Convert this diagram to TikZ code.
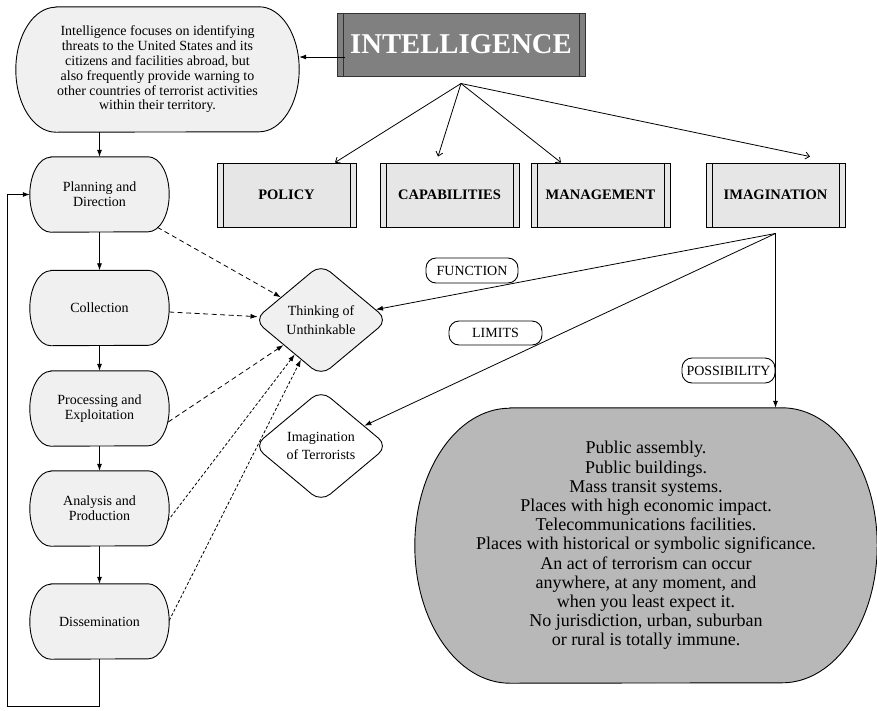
\documentclass[tikz,border=0pt]{standalone}
\usepackage{fontspec}
\setmainfont{Liberation Serif}
\usetikzlibrary{arrows.meta,shapes.geometric,calc}
\definecolor{softfill}{HTML}{F0F0F0}
\definecolor{catfill}{HTML}{E6E6E6}
\definecolor{headfill}{HTML}{808080}
\definecolor{headline}{HTML}{333333}
\definecolor{bigfill}{HTML}{B8B8B8}
\pgfdeclarelayer{shapelayer}
\pgfsetlayers{shapelayer,main}

% outline with half-elliptic ends behind node #1: x radius #2, y radius #3, fill #4
\newcommand\stadiumpath[4]{%
  \begin{pgfonlayer}{shapelayer}
  \draw[line width=0.9pt,fill=#4] let \p1=(#1.north west), \p2=(#1.south east) in
    (\x1+#2,\y1) -- (\x2-#2,\y1)
    arc[start angle=90,end angle=-90,x radius=#2,y radius=#3]
    -- (\x1+#2,\y2)
    arc[start angle=270,end angle=90,x radius=#2,y radius=#3] -- cycle;
  \end{pgfonlayer}}

\begin{document}
\begin{tikzpicture}[x=1pt,y=-1pt,
  every node/.style={inner sep=0pt,align=center},
  conn/.style={line width=0.8pt},
  solidtip/.style={conn,-{Latex[length=7pt,width=5pt]}},
  opentip/.style={conn,-{Straight Barb[length=4pt,width=7pt]}},
  dashtip/.style={conn,dash pattern=on 5pt off 3.5pt,-{Latex[length=7pt,width=5pt]}},
  finetip/.style={conn,dash pattern=on 3pt off 2pt,-{Latex[length=7pt,width=5pt]}},
  sidebars/.style={path picture={
    \draw[line width=0.8pt,#1]
      ([xshift=6pt]path picture bounding box.north west) -- ([xshift=6pt]path picture bounding box.south west)
      ([xshift=-6pt]path picture bounding box.north east) -- ([xshift=-6pt]path picture bounding box.south east);}},
  topbox/.style={minimum width=283pt,minimum height=125pt,font=\fontsize{14}{14.8}\selectfont},
  headbox/.style={draw=headline,line width=1pt,fill=headfill,sidebars=headline,
    minimum width=248pt,minimum height=63pt,text=white,font=\fontsize{28.7}{30}\selectfont\bfseries},
  catbox/.style={draw,line width=0.9pt,fill=catfill,sidebars=black,
    minimum width=139pt,minimum height=64pt,font=\fontsize{14.5}{16}\selectfont\bfseries},
  stagebox/.style={minimum width=139pt,minimum height=75pt,font=\fontsize{14}{15}\selectfont},
  gem/.style={diamond,draw,line width=0.9pt,rounded corners=12pt,
    minimum width=134pt,minimum height=112pt,font=\fontsize{14}{18.5}\selectfont},
  tag/.style={draw,line width=0.9pt,rounded corners=10pt,minimum height=25pt,
    font=\fontsize{14}{15}\selectfont}
]
\useasboundingbox (0,0) rectangle (877,710);

% top explanatory box and the heading
\node[topbox] (top) at (157.5,69.5) {Intelligence focuses on identifying\\ threats to the United States and its\\ citizens and facilities abroad, but\\ also frequently provide warning to\\ other countries of terrorist activities\\ within their territory.};
\stadiumpath{top}{40pt}{62.5pt}{softfill}
\node[headbox] (intel) at (461,44.5) {INTELLIGENCE};

% four categories
\node[catbox] (policy) at (286.5,195) {POLICY};
\node[catbox] (cap)    at (449.5,195) {CAPABILITIES};
\node[catbox] (mgmt)   at (600.5,195) {MANAGEMENT};
\node[catbox] (imag)   at (775.5,195) {IMAGINATION};

% intelligence cycle
\node[stagebox] (plan) at (99.5,194.5) {Planning and\\ Direction};
\node[stagebox] (coll) at (99.5,308)   {Collection};
\node[stagebox] (proc) at (99.5,408.5) {Processing and\\ Exploitation};
\node[stagebox] (anal) at (99.5,508.5) {Analysis and\\ Production};
\node[stagebox] (diss) at (99.5,621.5) {Dissemination};
\foreach \s in {plan,coll,proc,anal,diss} {\stadiumpath{\s}{21pt}{37.5pt}{softfill}}

% diamonds
\node[gem,fill=softfill] (think) at (321,320) {Thinking of\\ Unthinkable};
\node[gem,fill=white]    (terr)  at (321,446) {Imagination\\ of Terrorists};

% big target area
\node[minimum width=462pt,minimum height=275pt,font=\fontsize{18}{19.2}\selectfont]
  (big) at (646,545.5) {Public assembly.\\ Public buildings.\\ Mass transit systems.\\ Places with high economic impact.\\ Telecommunications facilities.\\ Places with historical or symbolic significance.\\ An act of terrorism can occur\\ anywhere, at any moment, and\\ when you least expect it.\\ No jurisdiction, urban, suburban\\ or rural is totally immune.};
\stadiumpath{big}{95pt}{137.5pt}{bigfill}

% heading to explanatory box
\coordinate (ia) at ([shift={(8pt,-12.5pt)}]intel.west);
\draw[solidtip] (ia) -- (top.east |- ia);

% heading to the categories
\coordinate (ihub) at ([yshift=-7pt]intel.south);
\draw[opentip] (ihub) -- ([xshift=48.5pt]policy.north);
\draw[opentip] (ihub) -- ([shift={(-11.5pt,6pt)}]cap.north);
\draw[opentip] (ihub) -- ([xshift=-39.5pt]mgmt.north);
\draw[opentip] (ihub) -- ([shift={(34.5pt,6pt)}]imag.north);

% cycle flow
\draw[solidtip] (plan.north |- top.south) -- (plan.north);
\draw[solidtip] (plan) -- (coll);
\draw[solidtip] (coll) -- (proc);
\draw[solidtip] (proc) -- (anal);
\draw[solidtip] (anal) -- (diss);
\coordinate (loopA) at (7,706);
\draw[solidtip] (diss.south) |- (loopA) |- (plan.west);

% cycle stages feeding the thinking diamond
\draw[dashtip] ([shift={(-12pt,5pt)}]plan.south east) -- (think);
\draw[dashtip] ([yshift=-4pt]coll.east) -- (think);
\draw[dashtip] ([shift={(-1pt,-13.5pt)}]proc.east) -- (think);
\draw[finetip] ([shift={(-1.5pt,-12.5pt)}]anal.east) -- (think);
\draw[finetip] ([yshift=1pt]diss.east) -- (think);

% imagination branches
\coordinate (isrc) at ([yshift=-6pt]imag.south);
\draw[solidtip] (isrc) -- (think);
\draw[solidtip] (isrc) -- (terr);
\draw[solidtip] (isrc) -- (isrc |- big.north);

% branch labels
\node[tag,minimum width=92pt] (fun)  at (472,270.5) {FUNCTION};
\node[tag,minimum width=93pt,minimum height=24pt] (lim) at (495.5,333) {LIMITS};
\node[tag,minimum width=93pt] (poss) at (728.5,370.5) {POSSIBILITY};
\end{tikzpicture}
\end{document}
